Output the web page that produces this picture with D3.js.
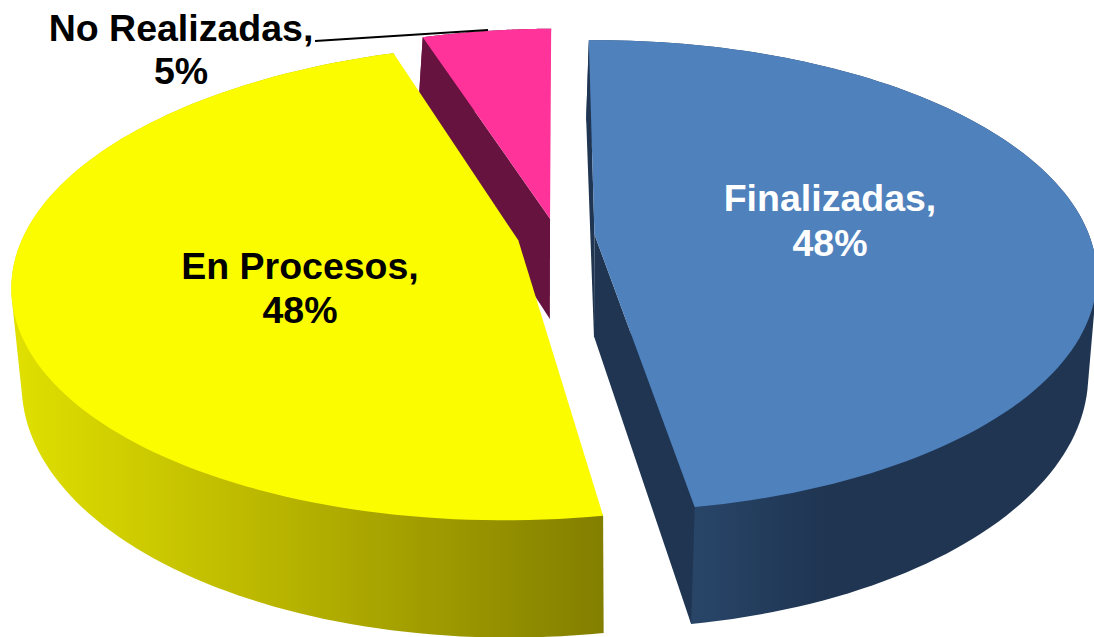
<!DOCTYPE html>
<html><head><meta charset="utf-8">
<script src="https://cdn.jsdelivr.net/npm/d3@7"></script>
<style>html,body{margin:0;padding:0;background:#fff}svg{display:block}text{font-family:"Liberation Sans",Arial,sans-serif;font-weight:bold}</style>
</head><body><svg id="c" width="1094" height="637"></svg>
<script>
const sliceNames = ["Finalizadas","En Procesos","No Realizadas"];
const values = [47.6,47.45,4.95];
const pctLabels = ["48%","48%","5%"];
const topColors = ["#4f81bd","#fcfc00","#ff3399"];
const wallStops = [["#284568","#1f3552","#1f3552"],["#e0e000","#b4b000","#837f00"],["#66133f","#66133f","#66133f"]];
const sideColors = ["#1f3552","#b0b000","#66133f"];

const svg = d3.select("#c");
const pie = d3.pie().sort(null).value(d=>d).startAngle(-0.8*Math.PI/180).endAngle(359.2*Math.PI/180);
const arcs = pie(values);
const explode = 0.078;
const topPlane = {cx:556,cy:236,R:495,S:229,k:0.176,shear:-6};
const botPlane = {cx:556,cy:338,R:489,S:250,k:0.147,shear:-3};
function proj(p,X,Y){const w=1-p.k*Y;return [p.cx+p.R*X/w+p.shear*Y,p.cy+p.S*Y/w];}
function world(a,r,arc){const mid=(arc.startAngle+arc.endAngle)/2;
  return [explode*Math.sin(mid)+r*Math.sin(a),-explode*Math.cos(mid)-r*Math.cos(a)];}
const angles=(a,b)=>d3.range(0,121).map(i=>a+(b-a)*i/120);
const line=d3.line();
const defs=svg.append("defs");
const xRanges=[[695,950],[12,601],[424,551]];
arcs.forEach((arc,i)=>{
  const g=defs.append("linearGradient").attr("id","w"+i).attr("gradientUnits","userSpaceOnUse")
    .attr("x1",xRanges[i][0]).attr("x2",xRanges[i][1]).attr("y1",0).attr("y2",0);
  wallStops[i].forEach((c,j)=>g.append("stop").attr("offset",j/2).attr("stop-color",c));
});
const turn=(p)=>(p[1][0]-p[0][0])*(p[2][1]-p[1][1])-(p[1][1]-p[0][1])*(p[2][0]-p[1][0]);
[2,1,0].forEach(i=>{
  const arc=arcs[i],as=angles(arc.startAngle,arc.endAngle);
  const T=(a,r)=>proj(topPlane,...world(a,r,arc)),B=(a,r)=>proj(botPlane,...world(a,r,arc));
  const g=svg.append("g");
  const hull=d3.polygonHull([...as.map(a=>T(a,1)),...as.map(a=>B(a,1))]);
  g.append("path").attr("d",line(hull)+"Z").attr("fill",`url(#w${i})`);
  [[arc.startAngle,-1],[arc.endAngle,1]].forEach(([a,sign])=>{
    const side=[T(a,0),T(a,1),B(a,1),B(a,0)];
    if(turn(side)*sign>0) g.append("path").attr("d",line(side)+"Z").attr("fill",sideColors[i]);
  });
  g.append("path").attr("d",line([T(arc.startAngle,0),...as.map(a=>T(a,1))])+"Z").attr("fill",topColors[i]);
});
svg.append("path").attr("d",line([[315,41],[488,30]])).attr("stroke","#000").attr("stroke-width",2).attr("fill","none");
const labels=[
 {t:[sliceNames[0]+",",pctLabels[0]],x:830,y:[211,256],c:"#fff"},
 {t:[sliceNames[1]+",",pctLabels[1]],x:300,y:[279,323],c:"#000"},
 {t:[sliceNames[2]+",",pctLabels[2]],x:181,y:[41,84],c:"#000"}];
labels.forEach(l=>l.t.forEach((s,j)=>svg.append("text").text(s).attr("x",l.x).attr("y",l.y[j]).attr("text-anchor","middle").attr("font-size",37.5).attr("fill",l.c)));
</script></body></html>
